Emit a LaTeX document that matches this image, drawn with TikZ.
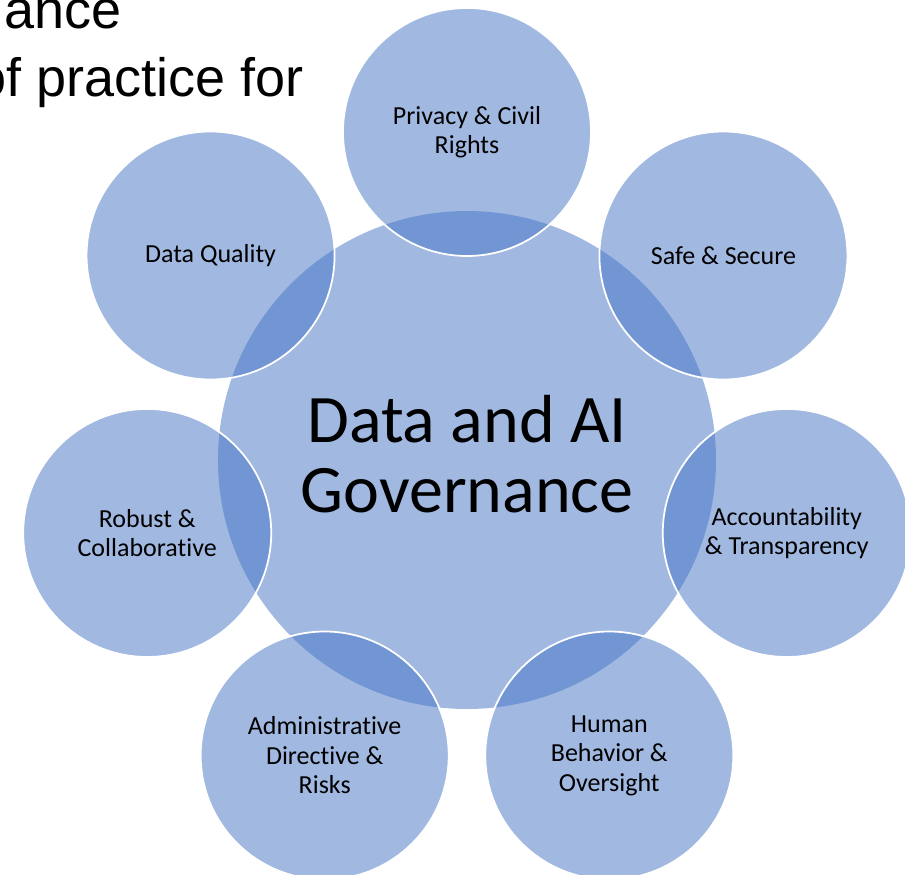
\documentclass[tikz,border=0pt]{standalone}
\usepackage{fontspec}
\setmainfont{Carlito}[RawFeature={-liga;-clig}]
\newfontfamily\slidefont{Liberation Sans}
\definecolor{accent}{HTML}{4472C4}

\begin{document}
\begin{tikzpicture}[x=1pt,y=1pt,
     hub/.style = {circle, fill=accent, fill opacity=0.5, text opacity=1,
      minimum size=498pt, inner sep=0pt, align=center, text depth=12pt,
      font=\fontsize{68}{70}\selectfont},
     petal/.style = {circle, fill=accent, fill opacity=0.5, text opacity=1,
      draw=white, line width=1.75pt, minimum size=248pt, inner sep=0pt,
      align=center, font=\fontsize{26}{29.5}\selectfont},
     slide/.style = {anchor=base east, inner sep=0pt,
      font=\slidefont\fontsize{54}{60}\selectfont}
    ]
    \useasboundingbox (-467,-415) rectangle (438,460);
    \clip (-467,-415) rectangle (438,460);

    % slide title showing behind the diagram
    \node [slide] (title) at (-345,431) {ance};
    \node [slide] (subtitle) at (-163,363) {of practice for};

    \node [hub] (gov) at (0,0) {Data and AI\\Governance};
    \node [petal] (privacy) at (90:328pt) {Privacy \& Civil\\Rights};
    \node [petal] (safe) at (38.571:328pt) {Safe \& Secure};
    \node [petal] (account) at (-12.857:328pt) {Accountability\\\& Transparency};
    \node [petal] (human) at (-64.286:328pt) {Human\\Behavior \&\\Oversight};
    \node [petal] (admin) at (-115.714:328pt) {Administrative\\Directive \&\\Risks};
    \node [petal] (robust) at (-167.143:328pt) {Robust \&\\Collaborative};
    \node [petal] (quality) at (141.429:328pt) {Data Quality};

\end{tikzpicture}
\end{document}
